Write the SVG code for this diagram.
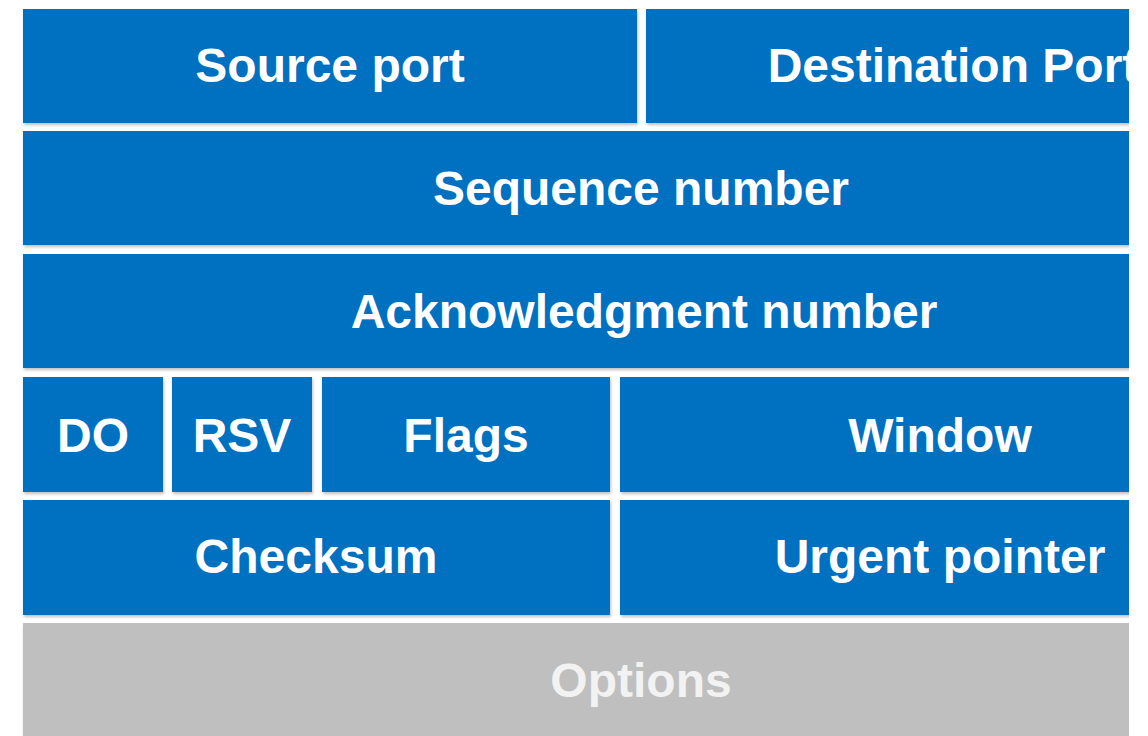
<svg xmlns="http://www.w3.org/2000/svg" width="1148" height="736" viewBox="0 0 1148 736">
<defs>
<clipPath id="crop"><rect x="0" y="0" width="1129" height="736"/></clipPath>
<filter id="sh" x="-5%" y="-10%" width="110%" height="130%">
<feDropShadow dx="1" dy="2" stdDeviation="1.5" flood-color="#000" flood-opacity="0.25"/>
</filter>
</defs>
<style>
.b{fill:#0070C0;filter:url(#sh)}
.g{fill:#BFBFBF;filter:url(#sh)}
.t{font-family:"Liberation Sans",Arial,sans-serif;font-weight:bold;font-size:48px;fill:#FFFFFF;text-anchor:middle}
.to{font-family:"Liberation Sans",Arial,sans-serif;font-weight:bold;font-size:48px;fill:#F2F2F2;text-anchor:middle}
</style>
<rect width="1148" height="736" fill="#FFFFFF"/>
<g clip-path="url(#crop)">
<g id="source-port"><rect class="b" x="23" y="9" width="614" height="114"/><text class="t" x="330" y="82">Source port</text></g>
<g id="destination-port"><rect class="b" x="646" y="9" width="614" height="114"/><text class="t" x="953" y="82">Destination Port</text></g>
<g id="sequence-number"><rect class="b" x="23" y="131" width="1237" height="114"/><text class="t" x="641" y="205">Sequence number</text></g>
<g id="ack-number"><rect class="b" x="23" y="254" width="1237" height="114"/><text class="t" x="644" y="328">Acknowledgment number</text></g>
<g id="do"><rect class="b" x="23" y="377" width="140" height="115"/><text class="t" x="93" y="452">DO</text></g>
<g id="rsv"><rect class="b" x="172" y="377" width="140" height="115"/><text class="t" x="242" y="452">RSV</text></g>
<g id="flags"><rect class="b" x="322" y="377" width="288" height="115"/><text class="t" x="466" y="452">Flags</text></g>
<g id="window"><rect class="b" x="620" y="377" width="640" height="115"/><text class="t" x="940" y="452">Window</text></g>
<g id="checksum"><rect class="b" x="23" y="500" width="587" height="115"/><text class="t" x="316" y="573">Checksum</text></g>
<g id="urgent-pointer"><rect class="b" x="620" y="500" width="640" height="115"/><text class="t" x="940" y="573">Urgent pointer</text></g>
<g id="options"><rect class="g" x="23" y="623" width="1237" height="125"/><text class="to" x="641" y="697">Options</text></g>
</g>
<g id="connectors"/>
</svg>
